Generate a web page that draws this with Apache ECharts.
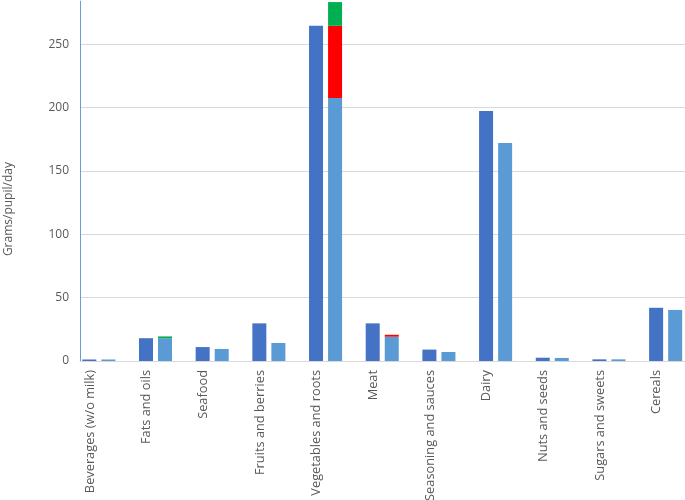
<!DOCTYPE html>
<html>
<head>
<meta charset="utf-8">
<script src="https://cdn.jsdelivr.net/npm/echarts@6/dist/echarts.min.js"></script>
<style>html,body{margin:0;padding:0;background:#fff}#c{width:685px;height:500px}</style>
</head>
<body>
<div id="c"></div>
<script>
var categories = ['Beverages (w/o milk)', 'Fats and oils', 'Seafood', 'Fruits and berries', 'Vegetables and roots', 'Meat', 'Seasoning and sauces', 'Dairy', 'Nuts and seeds', 'Sugars and sweets', 'Cereals'];
var seriesA = [1.2, 18, 11, 29.7, 264.7, 29.7, 9, 197.3, 2.6, 1.3, 42];
var seriesB = [1.2, 18, 9.5, 14.2, 207.6, 19.2, 7.1, 172.1, 2.4, 1.3, 40.3];
var seriesRed = [null, null, null, null, 57, 1.5, null, null, null, null, null];
var seriesGreen = [null, 1.4, null, null, 18.7, null, null, null, null, null, null];
var yTicks = [0, 50, 100, 150, 200, 250];

var font = 'Open Sans';
var txt = '#595959';
var chart = echarts.init(document.getElementById('c'));
chart.setOption({
  animation: false,
  grid: [
    {left: 80, top: 1.2, width: 623.5, bottom: 139, outerBoundsMode: 'none', containLabel: false},
    {left: 61.65, top: 1.2, width: 623.5, bottom: 139, outerBoundsMode: 'none', containLabel: false}
  ],
  xAxis: [
    {type: 'category', gridIndex: 0, data: categories,
     axisLine: {show: true, lineStyle: {color: '#D9D9D9', width: 1}},
     axisTick: {show: false}, axisLabel: {show: false}},
    {type: 'category', gridIndex: 1, data: categories,
     axisLine: {show: false}, axisTick: {show: false},
     axisLabel: {show: true, rotate: 90, interval: 0, margin: 9, color: txt, fontFamily: font, fontSize: 12.8}}
  ],
  yAxis: [
    {type: 'value', gridIndex: 0, min: yTicks[0], max: 284, interval: 50,
     name: 'Grams/pupil/day', nameLocation: 'middle', nameGap: 65.5,
     nameTextStyle: {color: txt, fontFamily: font, fontSize: 12, padding: [0, 56, 0, 0]},
     axisLine: {show: true, lineStyle: {color: '#6A9BDB', width: 1}},
     axisTick: {show: false},
     axisLabel: {color: txt, fontFamily: font, fontSize: 12, margin: 11, showMaxLabel: false},
     splitLine: {show: true, showMaxLine: false, lineStyle: {color: '#D9D9D9', width: 1}}},
    {type: 'value', gridIndex: 1, min: 0, max: 284, show: false}
  ],
  series: [
    {type: 'bar', name: 'A', xAxisIndex: 0, yAxisIndex: 0, data: seriesA, barWidth: 14, barGap: '36%',
     itemStyle: {color: '#4472C4'}},
    {type: 'bar', name: 'B', stack: 'b', xAxisIndex: 0, yAxisIndex: 0, data: seriesB, barWidth: 14, barGap: '36%',
     itemStyle: {color: '#5B9BD5'}},
    {type: 'bar', name: 'Red', stack: 'b', xAxisIndex: 0, yAxisIndex: 0, data: seriesRed, barWidth: 14, barGap: '36%',
     itemStyle: {color: '#FF0000'}},
    {type: 'bar', name: 'Green', stack: 'b', xAxisIndex: 0, yAxisIndex: 0, data: seriesGreen, barWidth: 14, barGap: '36%',
     itemStyle: {color: '#00B050'}},
    {type: 'bar', name: 'Empty', xAxisIndex: 0, yAxisIndex: 0, data: [], barWidth: 14, barGap: '36%'}
  ]
});
</script>
</body>
</html>
